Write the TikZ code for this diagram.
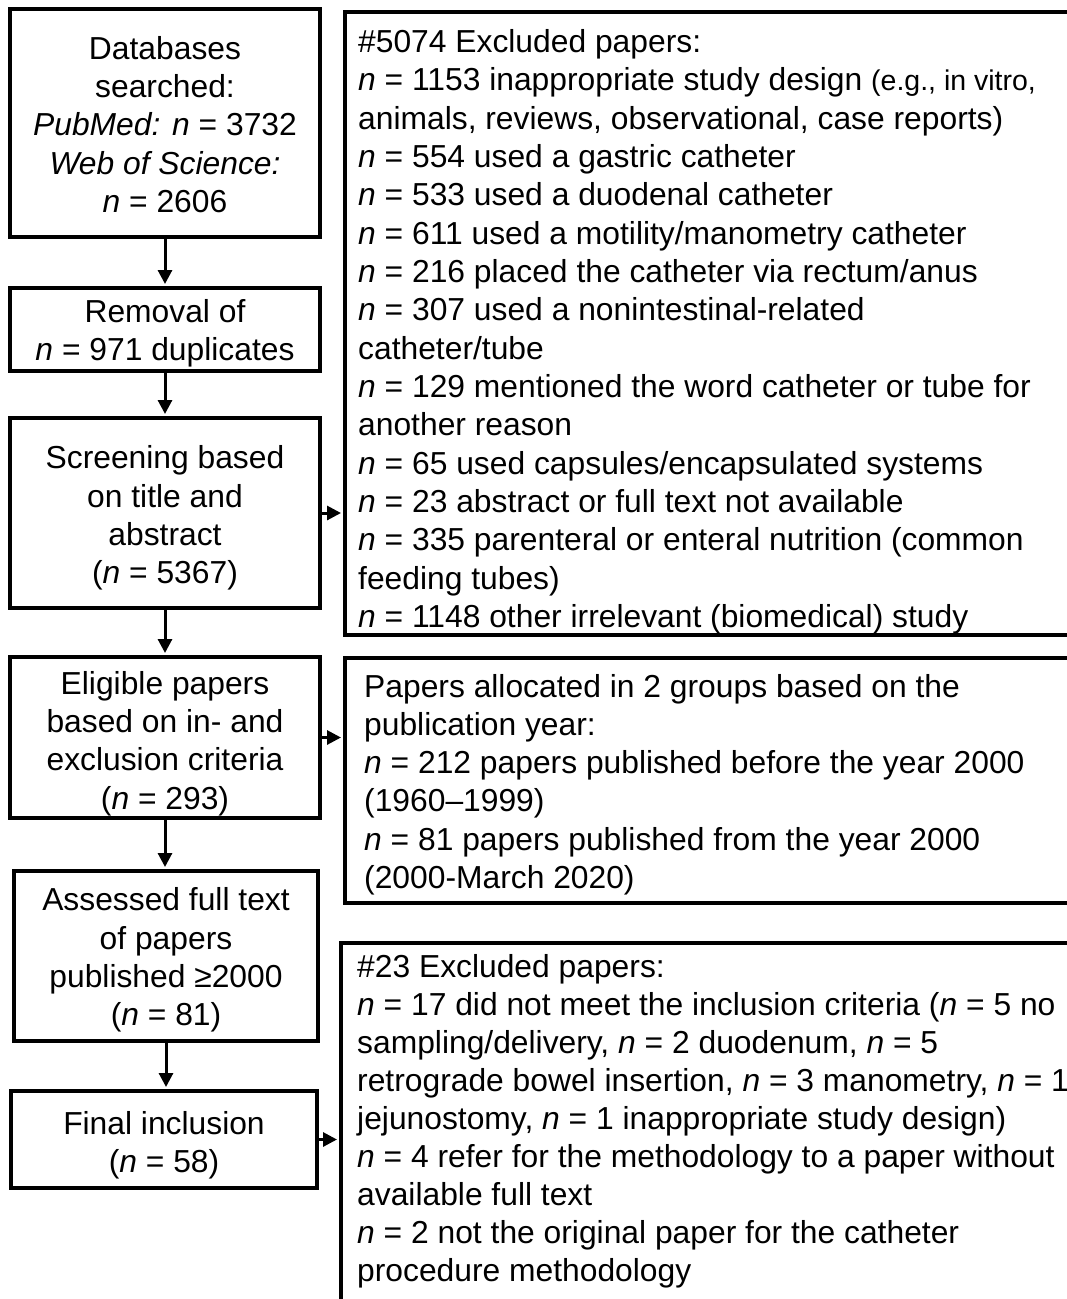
\documentclass[tikz,border=0pt]{standalone}
\usepackage{fontspec}
\setmainfont{Liberation Sans}
\usetikzlibrary{arrows.meta}
\newcommand\nn{\textit{n}}
\begin{document}
\begin{tikzpicture}[x=1pt,y=-1pt,
  font=\fontsize{31.8}{38.2}\selectfont,
  lbox/.style={draw, line width=4pt, inner sep=0pt},
  ltext/.style={align=center, inner sep=0pt},
  rbox/.style={draw, line width=4pt, anchor=north west, inner sep=0pt},
  rtext/.style={anchor=north west, align=left, inner sep=0pt},
  flow/.style={line width=3pt, shorten >=2pt, -{Triangle[length=14pt,width=14pt]}}]
\useasboundingbox (0,0) rectangle (1067,1299);
\clip (0,0) rectangle (1067,1299);

% left column boxes
\node[lbox, minimum width=310pt, minimum height=228pt] (db) at (165,123) {};
\node[lbox, minimum width=310pt, minimum height=83pt] (rem) at (165,329.5) {};
\node[lbox, minimum width=310pt, minimum height=190pt] (scr) at (165,513) {};
\node[lbox, minimum width=310pt, minimum height=161pt] (elig) at (165,737.5) {};
\node[lbox, minimum width=304pt, minimum height=170pt] (ass) at (166,956) {};
\node[lbox, minimum width=306pt, minimum height=97pt] (fin) at (164,1139.5) {};

% left column texts
\node[ltext] (dbt) at (165,124.5)
  {Databases\\searched:\\\textit{PubMed: n} = 3732\\\textit{Web of Science:}\\\nn{} = 2606};
\node[ltext] (remt) at (165,333.5)
  {Removal of\\\nn{} = 971 duplicates};
\node[ltext] (scrt) at (165,518)
  {Screening based\\on title and\\abstract\\(\nn{} = 5367)};
\node[ltext] (eligt) at (165,743.5)
  {Eligible papers\\based on in- and\\exclusion criteria\\(\nn{} = 293)};
\node[ltext] (asst) at (166,960)
  {Assessed full text\\of papers\\published ≥2000\\(\nn{} = 81)};
\node[ltext] (fint) at (164,1145.5)
  {Final inclusion\\(\nn{} = 58)};

% right column boxes
\node[rbox, minimum width=760pt, minimum height=623pt] (exA) at (343,10) {};
\node[rbox, minimum width=760pt, minimum height=245pt] (exB) at (343,656) {};
\node[rbox, minimum width=760pt, minimum height=380pt] (exC) at (339,941) {};

% right column texts
\node[rtext, font=\fontsize{31.8}{38.35}\selectfont] (exAt) at (358,25.3) {\strut\#5074 Excluded papers:\\
\nn{} = 1153 inappropriate study design {\fontsize{28.5}{38.35}\selectfont (e.g., in vitro,}\\
animals, reviews, observational, case reports)\\
\nn{} = 554 used a gastric catheter\\
\nn{} = 533 used a duodenal catheter\\
\nn{} = 611 used a motility/manometry catheter\\
\nn{} = 216 placed the catheter via rectum/anus\\
\nn{} = 307 used a nonintestinal-related\\
catheter/tube\\
\nn{} = 129 mentioned the word catheter or tube for\\
another reason\\
\nn{} = 65 used capsules/encapsulated systems\\
\nn{} = 23 abstract or full text not available\\
\nn{} = 335 parenteral or enteral nutrition (common\\
feeding tubes)\\
\nn{} = 1148 other irrelevant (biomedical) study};

\node[rtext] (exBt) at (364,670.3) {\strut Papers allocated in 2 groups based on the\\
publication year:\\
\nn{} = 212 papers published before the year 2000\\
(1960–1999)\\
\nn{} = 81 papers published from the year 2000\\
(2000-March 2020)};

\node[rtext, font=\fontsize{31.8}{38.0}\selectfont] (exCt) at (357,951) {\strut\#23 Excluded papers:\\
\nn{} = 17 did not meet the inclusion criteria (\nn{} = 5 no\\
sampling/delivery, \nn{} = 2 duodenum, \nn{} = 5\\
retrograde bowel insertion, \nn{} = 3 manometry, \nn{} = 1\\
jejunostomy, \nn{} = 1 inappropriate study design)\\
\nn{} = 4 refer for the methodology to a paper without\\
available full text\\
\nn{} = 2 not the original paper for the catheter\\
procedure methodology};

% connectors
\draw[flow] (db) -- (rem);
\draw[flow] (rem) -- (scr);
\draw[flow] (scr) -- (elig);
\draw[flow] (elig.south) -- (elig.south |- ass.north);
\draw[flow] (ass.south) -- (ass.south |- fin.north);
\draw[flow] (scr.east) -- (scr.east -| exA.west);
\draw[flow] (elig.east) -- (elig.east -| exB.west);
\draw[flow] (fin.east) -- (fin.east -| exC.west);
\end{tikzpicture}
\end{document}
